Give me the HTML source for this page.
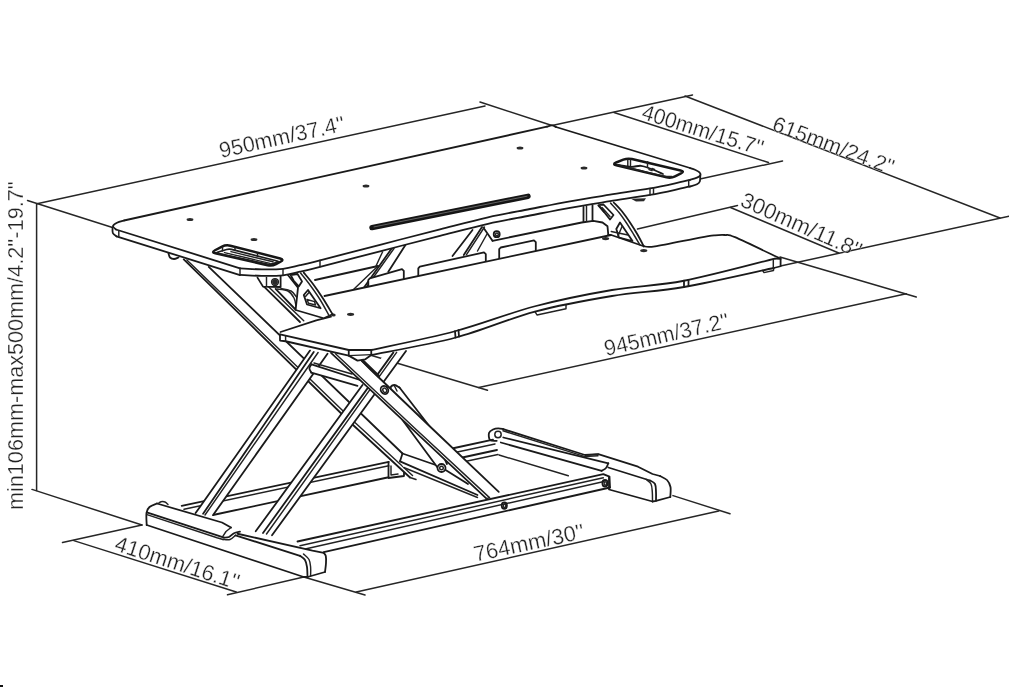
<!DOCTYPE html>
<html>
<head>
<meta charset="utf-8">
<title>Sit-stand desk converter dimensions</title>
<style>
html,body{margin:0;padding:0;background:#fff;}
body{width:1009px;height:687px;overflow:hidden;font-family:"Liberation Sans",sans-serif;}
svg{display:block;position:absolute;left:0;top:0;filter:blur(0.5px);}
.d{stroke:#262626;stroke-width:1.5;fill:none;stroke-linecap:round;}
.l{stroke:#1a1a1a;stroke-width:1.8;fill:none;stroke-linecap:round;stroke-linejoin:round;}
.t{stroke:#222;stroke-width:1.45;fill:none;stroke-linecap:round;stroke-linejoin:round;}
.w{stroke:#1a1a1a;stroke-width:1.8;fill:#fff;stroke-linecap:round;stroke-linejoin:round;}
.wn{stroke:none;fill:#fff;}
.h{stroke:#161616;stroke-width:2.1;fill:none;stroke-linecap:round;stroke-linejoin:round;}
.k{stroke:none;fill:#2a2a2a;}
text{font-family:"Liberation Sans",sans-serif;font-size:22px;fill:#222;stroke:#fff;stroke-width:0.3px;}
</style>
</head>
<body>
<svg width="1009" height="687" viewBox="0 0 1009 687">
<rect x="0" y="0" width="1009" height="687" fill="#ffffff"/>
<g id="dims">
<line class="d" x1="37" y1="203.7" x2="485" y2="106"/>
<line class="d" x1="36.6" y1="203.7" x2="36.6" y2="490.5"/>
<line class="d" x1="27.5" y1="200.5" x2="112.5" y2="227.5"/>
<line class="d" x1="480" y1="102" x2="552" y2="125.5"/>
<line class="d" x1="552" y1="125.5" x2="692.5" y2="95"/>
<line class="d" x1="685" y1="96" x2="1000" y2="218"/>
<line class="d" x1="614" y1="112.5" x2="768.5" y2="162.5"/>
<line class="d" x1="700" y1="179" x2="782.5" y2="161"/>
<line class="d" x1="637.5" y1="229" x2="737.5" y2="205.5"/>
<line class="d" x1="730.5" y1="207.5" x2="838.75" y2="253"/>
<line class="d" x1="780.5" y1="266" x2="1009" y2="216.25"/>
<line class="d" x1="780" y1="257" x2="916.25" y2="297"/>
<line class="d" x1="906.25" y1="293.75" x2="478.75" y2="387.5"/>
<line class="d" x1="370" y1="355" x2="487.5" y2="390.25"/>
<line class="d" x1="32" y1="489.4" x2="142" y2="525"/>
<line class="d" x1="142" y1="525" x2="62.5" y2="542.5"/>
<line class="d" x1="73.75" y1="540.6" x2="236.25" y2="592"/>
<line class="d" x1="303.75" y1="577" x2="227.5" y2="594.75"/>
<line class="d" x1="303.75" y1="577" x2="365" y2="595"/>
<line class="d" x1="356.25" y1="592" x2="718.75" y2="511"/>
<line class="d" x1="673" y1="495.6" x2="730" y2="513.75"/>
</g>
<g id="base">
<path class="l" d="M181.7 505.8 L388.75 461.9"/>
<path class="t" d="M184 509.3 L388.75 465.8"/>
<path class="l" d="M213 515 L387.5 477.5"/>
<path class="l" d="M388.5 462 L388.5 478 L404 476 L404 468"/>
<path class="t" d="M391 466 L391 475 L398 474"/>
<path class="l" d="M452 448.5 L493 439.6"/>
<path class="t" d="M455 452.5 L495 444"/>
<path class="l" d="M460 458 L497 450"/>
<path class="t" d="M465 461.5 L498 454.5"/>
<path class="l" d="M496.7 440.8 C495.58 440.67 491.28 441.3 490 440 C488.72 438.7 488.5 434.75 489 433 C489.5 431.25 491.45 430.28 493 429.5 C494.55 428.72 496.58 428.35 498.3 428.3 C500.02 428.25 502.47 429.05 503.3 429.2"/>
<path class="l" d="M503.3 429.2 L585 455 L598.3 454.2 L638 466.7 L652.5 474 L660 476"/>
<path class="l" d="M503.3 437.5 L608.3 463.3"/>
<path class="t" d="M503 430.8 L585 456.6 L598 455.8"/>
<path class="l" d="M500.8 442.5 L601.7 470.8"/>
<path class="l" d="M608.3 463.3 C607.92 464.08 607.1 466.75 606 468 C604.9 469.25 602.42 470.33 601.7 470.8"/>
<path class="t" d="M499 455 L568.3 475.8"/>
<ellipse class="t" cx="498" cy="434.5" rx="3.2" ry="3.2"/>
<path class="t" d="M586.7 455.2 L598.3 454.2"/>
<path class="l" d="M608.3 467.5 L650 480.5"/>
<path class="l" d="M609 477 L609 489.5 L652.5 501.5"/>
<path class="l" d="M660 476 C661.17 476.67 665.25 478.17 667 480 C668.75 481.83 669.95 484.17 670.5 487 C671.05 489.83 670.33 495.33 670.3 497"/>
<path class="l" d="M650 480.5 C650.83 481.08 654 482.08 655 484 C656 485.92 655.83 489.2 656 492 C656.17 494.8 656 499.33 656 500.8"/>
<path class="t" d="M646 479.3 C646.83 480.08 649.95 481.88 651 484 C652.05 486.12 652.05 489.08 652.3 492 C652.55 494.92 652.47 499.92 652.5 501.5"/>
<path class="l" d="M652.5 501.5 L656 500.8 L670.3 497"/>
<path class="l" d="M297.5 541.5 L603.3 474.2 L609.5 476.7 L610 487.5"/>
<path class="t" d="M300 545.7 L603.3 477.8"/>
<path class="t" d="M303 549.5 L604 481.5"/>
<path class="l" d="M323.75 552.2 L610 487.5"/>
<ellipse class="l" cx="504.3" cy="505.6" rx="2.6" ry="3.3"/>
<ellipse class="l" cx="605" cy="483.3" rx="2.6" ry="3.3"/>
<ellipse class="t" cx="504.6" cy="505.8" rx="1.2" ry="1.8"/>
<ellipse class="t" cx="605.3" cy="483.5" rx="1.2" ry="1.8"/>
</g>
<g id="leftfoot">
<path class="wn" d="M146.7 525 L146.7 512 L150 506.5 L157 503.5 L222 522.5 L230 526.5 L240 531.7 L312.5 550.6 L323.75 552.8 L326 560 L325 572 L307.5 577 L303.75 577 Z"/>
<path class="l" d="M146.7 525 C146.67 523 146.03 516 146.5 513 C146.97 510 147.75 508.58 149.5 507 C151.25 505.42 155.75 504.08 157 503.5"/>
<path class="l" d="M157 503.5 L222 522.5 L231 527.5"/>
<path class="l" d="M146.8 512.3 L218 535.6 L224 537.6"/>
<path class="t" d="M147 514.6 L217 537.7 L223 539.5"/>
<path class="l" d="M146.7 525 L303.75 577 L307.5 577"/>
<path class="l" d="M224 537.6 C224.83 537.5 227.33 537.73 229 537 C230.67 536.27 232.17 534.08 234 533.2 C235.83 532.32 239 531.95 240 531.7"/>
<path class="t" d="M223 539.5 C224.17 539.5 227.92 540.2 230 539.5 C232.08 538.8 234.58 536 235.5 535.3"/>
<path class="t" d="M231 527.5 L226 531.5 L222.5 536.8"/>
<path class="l" d="M237.5 533.75 L312.5 550.6 L323.75 552.8"/>
<path class="l" d="M323.75 552.8 C324.09 553.33 325.43 554.3 325.8 556 C326.18 557.7 326.13 560.33 326 563 C325.87 565.67 325.17 570.5 325 572"/>
<path class="l" d="M235.5 535.3 L300 555.8"/>
<path class="l" d="M300 555.8 C300.83 556.5 303.83 558.13 305 560 C306.17 561.87 306.58 564.17 307 567 C307.42 569.83 307.42 575.33 307.5 577"/>
<path class="t" d="M303.5 554 C304.42 554.92 307.82 557.33 309 559.5 C310.18 561.67 310.33 564.25 310.6 567 C310.87 569.75 310.6 574.5 310.6 576"/>
<path class="l" d="M307.5 577 L325 572"/>
<path class="t" d="M158 503.6 C158.5 503.3 159.83 502.07 161 501.8 C162.17 501.53 163.83 501.55 165 502 C166.17 502.45 167.5 504.08 168 504.5"/>
</g>
<g id="legs">
<path class="wn" d="M183.75 259.4 L352.5 424.5 L410 477.5 L414 476 L402.5 453.5 L208.75 266.9 Z"/>
<path class="l" d="M183.75 259.4 L352.5 424.5 L410 477.5"/>
<path class="t" d="M186.9 260 L355.5 423 L412.5 475.5"/>
<path class="l" d="M208.75 266.9 L402.5 453.5"/>
<path class="t" d="M410 477.5 L416 479.5"/>
<path class="wn" d="M402.5 453.5 L440 466.5 L467.5 483.8 L484 497 L477.5 497.5 L403.75 467.5 L400 461.3 Z"/>
<path class="l" d="M402.5 453.5 L440 466.5 L468 484"/>
<path class="l" d="M400 461.3 L477.5 495"/>
<path class="t" d="M403.75 467.5 L477.5 497.5"/>
<path class="l" d="M402.5 453.5 L400 461.3"/>
<path class="wn" d="M195.6 513.1 L310 350.6 L327.5 353.75 L213.1 515 Z"/>
<path class="l" d="M195.6 513.1 L310 350.6"/>
<path class="l" d="M203.1 513.75 L313.75 351.9"/>
<path class="t" d="M205 515 L318.1 352.5"/>
<path class="l" d="M213.1 515 L327.5 353.75"/>
<path class="wn" d="M311 364.2 L360 380 L370 386 L357.5 386 L311.3 372.6 L309.6 368 Z"/>
<path class="l" d="M311.3 372.6 C310.98 371.92 309.37 369.88 309.4 368.5 C309.43 367.12 311.15 365 311.5 364.3"/>
<path class="l" d="M311.5 364.3 L360 380"/>
<path class="l" d="M311.3 372.6 L357.5 385.8"/>
<path class="t" d="M314 363 L352 374"/>
<path class="wn" d="M255.7 531.3 L385 353 L406 351 L272 535.3 Z"/>
<path class="l" d="M255.7 531.3 L362.5 385"/>
<path class="l" d="M263 533 L393.3 352.6"/>
<path class="t" d="M266.5 534 L396.6 352.3"/>
<path class="l" d="M272 535.3 L406 351"/>
<path class="wn" d="M391.5 391.5 L402.5 420 L437.5 467.5 L447 464 L430 427 L399.5 387.5 Z"/>
<path class="l" d="M391.5 391.5 L402.5 420 L437.5 467.5"/>
<path class="l" d="M399.5 387.5 L430 427 L447 464"/>
<path class="l" d="M391.5 391.5 C391.33 390.83 390 388.58 390.5 387.5 C391 386.42 393 385 394.5 385 C396 385 398.67 387.08 399.5 387.5"/>
<path class="t" d="M394.5 386 L397 391"/>
<ellipse class="w" cx="441.5" cy="468" rx="4" ry="4"/>
<ellipse class="t" cx="441.5" cy="468" rx="1.8" ry="1.8"/>
<path class="wn" d="M331 352.8 L486.5 498.6 L498.75 491.9 L430.5 427 L371 370 L361 360 L355 354 Z"/>
<path class="l" d="M331 352.8 L486.5 498.6"/>
<path class="t" d="M335.5 353.8 L414 427.5 L489.5 497.6"/>
<path class="l" d="M355 354 L361 360 L371 370 L430.5 427 L498.75 491.9"/>
<path d="M362.5 360.5 L378.5 376" stroke="#1c1c1c" stroke-width="3" stroke-linecap="round" fill="none"/>
<path class="t" d="M486.5 498.6 L489.5 497.6"/>
<ellipse class="l" cx="384.5" cy="390" rx="3.6" ry="4.2" transform="rotate(-35 384.5 390)"/>
<ellipse class="t" cx="384.8" cy="390.3" rx="1.8" ry="2.3" transform="rotate(-35 384.8 390.3)"/>
</g>
<g id="under">
<path class="l" d="M315 280 L378 266"/>
<path class="l" d="M492.5 240.8 L581.7 222.5 L593.3 220.8 L602.5 222.5 L607.5 226.3 L608.3 235"/>
<path class="l" d="M483.3 227.5 L492.5 240.8"/>
<ellipse class="l" cx="496.7" cy="234.2" rx="3" ry="3"/>
<ellipse class="t" cx="496.9" cy="234.4" rx="1.4" ry="1.4"/>
<path class="l" d="M583.5 207 L583.5 221.8"/>
<path class="l" d="M592.5 205.5 L592.5 220.5"/>
<path class="t" d="M586.5 206.5 L586.5 221.3"/>
<path class="t" d="M354 289 L378 266"/>
<path class="l" d="M364 287.5 L392 248"/>
<path class="t" d="M366.5 287 L394 248.5"/>
<path class="l" d="M388.3 271.7 L405.6 244.8"/>
<path class="t" d="M376 266 L382.5 252"/>
<path class="l" d="M452.5 256 L472.5 230"/>
<path class="l" d="M463.75 255 L482 227"/>
<path class="t" d="M466.5 254.6 L484.5 227"/>
<path class="t" d="M477.5 251 L487 234"/>
<path class="w" d="M368.3 289.5 L368.3 280 L369.8 278.3 L402 269.2 L403.8 270.9 L403.8 280.4"/>
<path class="w" d="M418.3 277.9 L418.3 268.4 L419.8 266.7 L484 252.4 L485.8 254.1 L485.8 263.6"/>
<path class="w" d="M499.2 259.7 L499.2 249.2 L500.7 247.5 L534 240.4 L535.8 242.1 L535.8 252.6"/>
</g>
<g id="tray">
<path class="wn" d="M280 333 L333 316.7 L324 296 L611 235 L643.75 246.25 L655 246.25 L700 237.5 L715 235.3 L725 235 L735 237 L780.6 258.75 L780.6 266.25 L773.75 268 L684 287 L612 296 L535 311.6 L456 337.5 L371.25 355 L365 359.4 L357.5 360.6 L348.75 355.6 L285.6 341.25 L280 340.6 Z"/>
<path class="t" d="M535 311.6 L537 315 L566 308.8 L566 304.8"/>
<path class="t" d="M762.5 270.4 L764 272.6 L773.5 270.5 L773.75 268"/>
<path class="l" d="M280.5 332 L316.25 320.3 L331 316.6"/>
<path class="l" d="M324.5 296 L611 235"/>
<path class="l" d="M643.75 246.25 C645.62 246.28 645.62 247.84 655 246.4 C664.38 244.96 690 239.45 700 237.6 C710 235.75 710.83 235.73 715 235.3 C719.17 234.87 721.67 234.68 725 235 C728.33 235.32 725.73 233.24 735 237.2 C744.27 241.16 773 255.16 780.6 258.75"/>
<path class="l" d="M280 334.4 L348.75 350 L371.25 350"/>
<path class="l" d="M371.25 350 C385.21 346.88 427.71 338.54 455 331.25 C482.29 323.96 508.83 313.12 535 306.25 C561.17 299.38 587.17 294.25 612 290 C636.83 285.75 656.83 285.98 684 280.75 C711.17 275.52 759.83 262.29 775 258.6"/>
<path class="l" d="M775 258.6 L780.6 258.75 L780.6 266.25 L773.75 268"/>
<path class="l" d="M280 334.4 L280 340.6 L285.6 341.25 L348.75 355.6 L357.5 360.6 L365 359.4 L371.25 355"/>
<path class="l" d="M371.25 355 C385.38 352.08 428.71 344.73 456 337.5 C483.29 330.27 509 318.52 535 311.6 C561 304.68 587.17 300.1 612 296 C636.83 291.9 657.04 291.67 684 287 C710.96 282.33 758.79 271.17 773.75 268"/>
<path class="t" d="M348.75 355.6 L371.25 354.6"/>
<path class="t" d="M285.6 335.6 L285.6 341.25"/>
<path class="l" d="M348.75 350 L348.75 355.6"/>
<path class="l" d="M371.25 350 L371.25 355"/>
<path class="l" d="M455 331.25 L455.5 337.5"/>
<path class="l" d="M458.5 330.2 L459 336.6"/>
<path class="l" d="M684 280.75 L684 287"/>
<path class="l" d="M688.5 279.8 L688.5 286"/>
<path class="t" d="M773.3 259 L773.3 268"/>
<ellipse class="k" cx="350.6" cy="314.3" rx="3.6" ry="1.6"/>
<ellipse class="k" cx="605.6" cy="238.6" rx="3.6" ry="1.6"/>
<ellipse class="k" cx="643.75" cy="250.6" rx="3.6" ry="1.6"/>
<ellipse class="k" cx="333.5" cy="315" rx="2.2" ry="1.5"/>
</g>
<g id="brackets">
<path class="l" d="M168.5 253.5 C168.75 254.17 169.08 256.58 170 257.5 C170.92 258.42 172.58 259 174 259 C175.42 259 177.75 257.75 178.5 257.5"/>
<path class="l" d="M263.75 286.4 L300 322"/>
<path class="t" d="M268.75 287 L303.75 320.75"/>
<path class="l" d="M275.6 288.9 L295.5 309.5"/>
<path class="t" d="M277 289 C278.83 289.33 285.17 289.5 288 291 C290.83 292.5 292.67 295.5 294 298 C295.33 300.5 295.67 304.67 296 306"/>
<path class="t" d="M281 288.5 C282.67 288.92 288.42 289.58 291 291 C293.58 292.42 295.58 296 296.5 297"/>
<path class="w" d="M257.5 277.6 L263 286.6 L280.6 287 L280.6 276.5"/>
<path class="t" d="M266.5 277.5 L266.5 286.6"/>
<ellipse class="k" cx="275" cy="282" rx="2.9" ry="2.9"/>
<ellipse class="t" cx="275" cy="282" rx="3.4" ry="3.4"/>
<path class="wn" d="M287.5 274.5 L298 287.6 L297 297 L295.6 310 L323.75 318.25 L332.5 314.2 L320 295 L303.75 272.6 Z"/>
<path class="l" d="M287.5 274.5 L298 287.6 L297 297 L295.6 310 L323.75 318.25 L332.5 314.2"/>
<path class="l" d="M303.75 272.6 C305.29 274.5 309.79 279.68 313 284 C316.21 288.32 319.75 293.47 323 298.5 C326.25 303.53 330.92 311.58 332.5 314.2"/>
<path class="t" d="M300.5 273 C302.08 275 306.75 280.58 310 285 C313.25 289.42 316.83 294.42 320 299.5 C323.17 304.58 327.5 312.83 329 315.5"/>
<path class="l" d="M290.6 275 L297.5 274 L302 281.4 L298.75 286.4 L293.75 280.75 Z"/>
<path class="l" d="M303.75 295 L308 290 L320.6 308.25 L307 304.5 Z"/>
<path class="t" d="M307 299.5 L314.5 301.6 L315.5 305 L308.5 303.3 Z"/>
<path class="t" d="M305.5 296.5 L309 292.5"/>
<path class="wn" d="M598.3 205.5 L606 213.5 L611 222 L611.25 235 L643.75 246.25 L630 222.5 L613.75 202.5 Z"/>
<path class="l" d="M598.3 205.5 L604 212"/>
<path class="l" d="M608.3 235 L611.25 235 L643.75 246.25"/>
<path class="l" d="M613.75 202.5 C615.21 204.08 619.79 208.67 622.5 212 C625.21 215.33 627.5 218.75 630 222.5 C632.5 226.25 635.21 230.54 637.5 234.5 C639.79 238.46 642.71 244.29 643.75 246.25"/>
<path class="t" d="M610.5 203 C611.92 204.58 616.33 209.17 619 212.5 C621.67 215.83 624 219.25 626.5 223 C629 226.75 631.75 231.33 634 235 C636.25 238.67 639 243.33 640 245"/>
<path class="l" d="M598.8 205.2 L603.5 204.5 L613.5 215 L610 219.5 Z"/>
<path class="t" d="M602 207.5 L610 216.5"/>
<path class="l" d="M616.3 229 L620 222.5 L632.5 241 L619 237.5 Z"/>
<path class="t" d="M618 236 L622 226.5"/>
<path class="t" d="M611.25 231.5 L628 235"/>
<path class="k" d="M631 198.8 L646 198.2 L644 201.2 L636 201.6 Z"/>
</g>
<g id="topdesk">
<path class="wn" d="M124 220.5 L547 126.7 L552 125.4 L556 127 L690 168 L695 169.8 L699.5 172.3 L700.3 175.3 L699.6 182.3 L697 184.2 L690 186.6 L690 186.3 L689.37 186.46 L688.67 186.64 L687.86 186.86 L686.88 187.11 L685.65 187.42 L684.14 187.78 L682.28 188.2 L680 188.7 L677.28 189.29 L674.14 189.98 L670.65 190.74 L666.88 191.56 L662.86 192.4 L658.67 193.25 L654.37 194.09 L650 194.9 L645.48 195.68 L640.7 196.46 L635.73 197.24 L630.62 198.02 L625.44 198.81 L620.23 199.6 L615.07 200.4 L610 201.2 L605 202 L600 202.8 L595 203.6 L590 204.41 L585 205.23 L580 206.07 L575 206.92 L570 207.8 L565.01 208.71 L560.05 209.63 L555.09 210.58 L550.12 211.54 L545.15 212.52 L540.14 213.51 L535.1 214.5 L530 215.5 L524.89 216.48 L519.78 217.45 L514.66 218.41 L509.5 219.38 L504.28 220.39 L498.97 221.45 L493.55 222.58 L488 223.8 L482.37 225.1 L476.7 226.46 L470.97 227.88 L465.12 229.35 L459.14 230.88 L452.98 232.47 L446.62 234.11 L440 235.8 L433.07 237.57 L425.84 239.43 L418.38 241.36 L410.75 243.33 L403.03 245.33 L395.28 247.34 L387.58 249.34 L380 251.3 L372.23 253.31 L364.06 255.42 L355.74 257.58 L347.5 259.71 L339.57 261.76 L332.19 263.67 L325.59 265.37 L320 266.8 L315.57 267.93 L312.12 268.8 L309.44 269.47 L307.31 269.99 L305.52 270.42 L303.85 270.81 L302.08 271.22 L300 271.7 L297.76 272.23 L295.63 272.76 L293.58 273.28 L291.56 273.77 L289.54 274.23 L287.46 274.64 L285.3 275 L283 275.3 L280.57 275.53 L278.05 275.7 L275.46 275.82 L272.81 275.89 L270.12 275.93 L267.41 275.94 L264.7 275.93 L262 275.9 L259.15 275.84 L256.05 275.72 L252.86 275.56 L249.69 275.39 L246.68 275.21 L243.98 275.04 L241.7 274.9 L240 274.8 L240 275.1 L116.5 236.3 L113 233.5 L112.6 227.2 L115 223.8 Z"/>
<path class="l" d="M124 220.5 L547 126.7"/>
<path class="l" d="M547 126.7 C547.83 126.48 550.5 125.35 552 125.4 C553.5 125.45 555.33 126.73 556 127"/>
<path class="l" d="M556 127 L690 168"/>
<path class="l" d="M690 168 C690.83 168.3 693.42 169.08 695 169.8 C696.58 170.52 698.62 171.38 699.5 172.3 C700.38 173.22 700.72 174.42 700.3 175.3 C699.88 176.18 698.72 176.85 697 177.6 C695.28 178.35 691.17 179.43 690 179.8"/>
<path class="l" d="M240 268.3 C243.67 268.48 254.83 269.32 262 269.4 C269.17 269.48 276.67 269.5 283 268.8 C289.33 268.1 293.83 266.62 300 265.2 C306.17 263.78 306.67 263.7 320 260.3 C333.33 256.9 360 249.97 380 244.8 C400 239.63 422 233.88 440 229.3 C458 224.72 473 220.68 488 217.3 C503 213.92 516.33 211.67 530 209 C543.67 206.33 556.67 203.68 570 201.3 C583.33 198.92 596.67 196.85 610 194.7 C623.33 192.55 638.33 190.48 650 188.4 C661.67 186.32 673.33 183.63 680 182.2 C686.67 180.77 688.33 180.2 690 179.8"/>
<path class="l" d="M116 229.5 L240 268.3"/>
<path class="l" d="M124 220.5 C122.83 220.88 118.83 221.88 117 222.8 C115.17 223.72 113.17 224.88 113 226 C112.83 227.12 115.5 228.92 116 229.5"/>
<path class="l" d="M240 274.8 C243.67 274.98 254.83 275.82 262 275.9 C269.17 275.98 276.67 276 283 275.3 C289.33 274.6 293.83 273.12 300 271.7 C306.17 270.28 306.67 270.2 320 266.8 C333.33 263.4 360 256.47 380 251.3 C400 246.13 422 240.38 440 235.8 C458 231.22 473 227.18 488 223.8 C503 220.42 516.33 218.17 530 215.5 C543.67 212.83 556.67 210.18 570 207.8 C583.33 205.42 596.67 203.35 610 201.2 C623.33 199.05 638.33 196.98 650 194.9 C661.67 192.82 673.33 190.13 680 188.7 C686.67 187.27 688.33 186.7 690 186.3"/>
<path class="l" d="M116.5 236.3 L240 275.1"/>
<path class="l" d="M112.6 227.2 C112.63 228.17 112.15 231.48 112.8 233 C113.45 234.52 115.88 235.75 116.5 236.3"/>
<path class="l" d="M690 186.6 C691.17 186.2 695.37 185.05 697 184.2 C698.63 183.35 699.25 182.98 699.8 181.5 C700.35 180.02 700.22 176.33 700.3 175.3"/>
<path class="t" d="M240 268.3 L240 274.8"/>
<path class="t" d="M283 268.8 L283 275.3"/>
<path class="t" d="M320 260.3 L320 266.8"/>
<path class="t" d="M650 188.4 L650 194.9"/>
<path class="t" d="M653.5 187.8 L653.5 194.3"/>
<path class="t" d="M688.7 180.2 L688.7 186.7"/>
<path class="t" d="M118.8 230.6 L118.8 236.8"/>
<ellipse class="k" cx="190" cy="219.5" rx="3.4" ry="1.5"/>
<ellipse class="k" cx="254" cy="239.5" rx="3.4" ry="1.5"/>
<ellipse class="k" cx="366" cy="186" rx="3.4" ry="1.5"/>
<ellipse class="k" cx="520" cy="148" rx="3.4" ry="1.5"/>
<ellipse class="k" cx="584" cy="168" rx="3.4" ry="1.5"/>
<path d="M372 227.6 L528 196.3" stroke="#151515" stroke-width="5.4" stroke-linecap="round" fill="none"/>
<path d="M374 226.9 L527 196.2" stroke="#6c6c6c" stroke-width="0.9" stroke-linecap="round" fill="none"/>
</g>
<g id="grommets">
<path d="M222 246.66 Q226 244.6 230.36 245.72 L280.14 258.48 Q284.5 259.6 280.53 261.73 L275.97 264.17 Q272 266.3 267.61 265.29 L215.39 253.31 Q211 252.3 215 250.24 Z" fill="#fff" stroke="#161616" stroke-width="2.5" stroke-linejoin="round"/>
<path d="M226.6 249.5 Q229 248.8 231.42 249.41 L277.08 260.99 Q279.5 261.6 277.11 262.32 L271.89 263.88 Q269.5 264.6 267.06 264.08 L217.44 253.42 Q215 252.9 217.4 252.2 Z" fill="none" stroke="#1c1c1c" stroke-width="1.7" stroke-linejoin="round"/>
<path class="t" d="M224.5 252.6 L270 263.4"/>
<path class="t" d="M231 251.6 L273 261.8"/>
<path class="t" d="M222.5 247 L222.5 251"/>
<path class="t" d="M235 247.6 L235 250.6"/>
<path class="t" d="M257.5 253.2 L257.5 256.6"/>
<path d="M623.32 159.67 Q627.5 158 631.88 159.03 L680.62 170.47 Q685 171.5 680.96 173.49 L675.04 176.41 Q671 178.4 666.62 177.35 L616.38 165.25 Q612 164.2 616.18 162.53 Z" fill="#fff" stroke="#161616" stroke-width="2.5" stroke-linejoin="round"/>
<path class="t" d="M627.8 160 L627.8 166"/>
<path class="t" d="M630.5 159.6 L630.5 166.6"/>
<path class="l" d="M618 165 C620.17 165.3 627.17 166.67 631 166.8 C634.83 166.93 637.83 165.52 641 165.8 C644.17 166.08 646.33 167.13 650 168.5 C653.67 169.87 660.83 173.08 663 174"/>
<path class="t" d="M647.5 161.6 L647.5 167.4"/>
<path class="t" d="M649 169.6 L652 170.6 L652 168.4 L654.5 169.4"/>
<path class="t" d="M618 165 C621.67 165.92 632.33 168.67 640 170.5 C647.67 172.33 658.67 175.02 664 176 C669.33 176.98 670.67 176.33 672 176.4"/>
</g>
<g id="labels">
<text transform="translate(221,158) rotate(-12.4)" textLength="128" lengthAdjust="spacingAndGlyphs">950mm/37.4''</text>
<text transform="translate(640.5,118.5) rotate(17.2)" textLength="126" lengthAdjust="spacingAndGlyphs">400mm/15.7''</text>
<text transform="translate(771,130) rotate(20.5)" textLength="128" lengthAdjust="spacingAndGlyphs">615mm/24.2''</text>
<text transform="translate(739,205.5) rotate(23.9)" textLength="130" lengthAdjust="spacingAndGlyphs">300mm/11.8''</text>
<text transform="translate(606,356) rotate(-12.9)" textLength="127.5" lengthAdjust="spacingAndGlyphs">945mm/37.2''</text>
<text transform="translate(475.5,561.7) rotate(-12)" textLength="112.5" lengthAdjust="spacingAndGlyphs">764mm/30''</text>
<text transform="translate(113.5,550) rotate(17.9)" textLength="129.5" lengthAdjust="spacingAndGlyphs">410mm/16.1''</text>
<text transform="translate(23,510) rotate(-90)" textLength="329" lengthAdjust="spacingAndGlyphs">min106mm-max500mm/4.2''-19.7''</text>
</g>
<rect x="0" y="685" width="3" height="2" fill="#111"/>
</svg>
</body>
</html>
